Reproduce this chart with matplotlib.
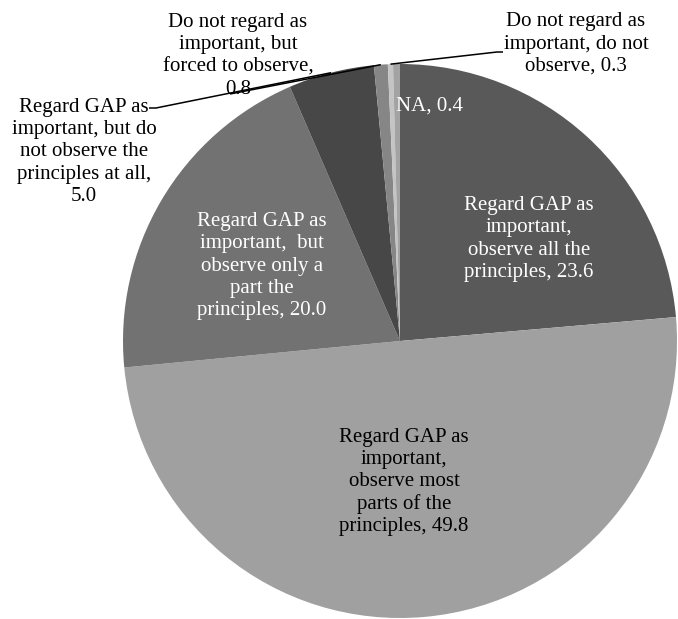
import matplotlib
matplotlib.use("Agg")
import matplotlib.pyplot as plt
import numpy as np

labels = [
    "Regard GAP as\nimportant,\nobserve all the\nprinciples, 23.6",
    "Regard GAP as\nimportant,\nobserve most\nparts of the\nprinciples, 49.8",
    "Regard GAP as\nimportant,  but\nobserve only a\npart the\nprinciples, 20.0",
    "Regard GAP as\nimportant, but do\nnot observe the\nprinciples at all,\n5.0",
    "Do not regard as\nimportant, but\nforced to observe,\n0.8",
    "Do not regard as\nimportant, do not\nobserve, 0.3",
    "NA, 0.4",
]
values = [23.6, 49.8, 20.0, 5.0, 0.8, 0.3, 0.4]
colors = ["#595959", "#a0a0a0", "#727272", "#474747", "#868686", "#c4c4c4", "#a3a3a3"]

W, H = 678, 619
CX, CY, R = 400, 341, 277

fig = plt.figure(figsize=(W / 100, H / 100), dpi=100)
ax = fig.add_axes([0, 0, 1, 1])

wedges, _ = ax.pie(values, colors=colors, startangle=90, counterclock=False,
                   radius=1.0, center=(0, 0), frame=True,
                   wedgeprops=dict(linewidth=0))
ax.set_xlim(-CX / R, (W - CX) / R)
ax.set_ylim(-(H - CY) / R, CY / R)
ax.axis("off")


def px(x, y):
    return ((x - CX) / R, (CY - y) / R)


font = dict(family="Liberation Serif", fontsize=15, linespacing=1.22,
            ha="center", va="center", multialignment="center")

# label layout (pixel positions), text color, leader start segment (pixel) or None
layout = [
    ((529, 239), "white", None),
    ((404, 482), "black", None),
    ((262, 266), "white", None),
    ((84, 152), "black", ((149, 108), (156, 108))),
    ((238, 56), "black", ((230, 94), (230, 94))),
    ((576, 44), "black", ((503, 52), (497, 52))),
    ((430, 106), "white", None),
]

for w, lab, (pos, col, lead) in zip(wedges, labels, layout):
    ax.text(*px(*pos), lab, color=col, **font)
    if lead is not None:
        ang = np.deg2rad((w.theta1 + w.theta2) / 2)
        ex, ey = np.cos(ang) * w.r, np.sin(ang) * w.r
        p0 = px(*lead[0])
        p1 = px(*lead[1])
        ax.plot([p0[0], p1[0], ex], [p0[1], p1[1], ey], color="black", lw=1.1,
                solid_capstyle="butt")

fig.savefig("out.png", dpi=100)
